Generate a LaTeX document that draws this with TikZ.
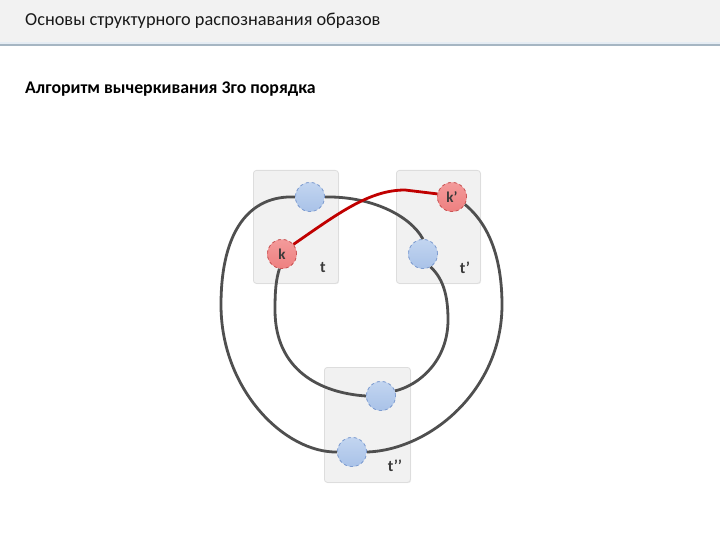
\documentclass[tikz,border=0pt]{standalone}
\usepackage{fontspec}
\setmainfont{Carlito}
\usetikzlibrary{shadows}
\definecolor{bandgray}{HTML}{F2F2F2}
\definecolor{bandline}{HTML}{A6B6C3}
\definecolor{bandlight}{HTML}{E6EDF4}
\definecolor{boxfill}{HTML}{F1F1F1}
\definecolor{boxline}{HTML}{DDDDDD}
\definecolor{bluefill}{HTML}{A9C2E8}
\definecolor{bluetop}{HTML}{C2D5F0}
\definecolor{blueline}{HTML}{7E9CD0}
\definecolor{redfill}{HTML}{EE8080}
\definecolor{redtop}{HTML}{F39A9A}
\definecolor{redline}{HTML}{C85555}
\definecolor{wire}{HTML}{4F4F4F}
\definecolor{redwire}{HTML}{C00000}
\definecolor{labelgray}{HTML}{3A3A3A}
\begin{document}
\begin{tikzpicture}[x=1pt,y=-1pt,
  panel/.style={draw=boxline,fill=boxfill,rounded corners=3pt,line width=0.8pt,
    drop shadow={shadow xshift=0.8pt,shadow yshift=-0.8pt,opacity=0.15}},
  bluecirc/.style={circle,minimum size=29pt,inner sep=0pt,draw=blueline,dashed,line width=0.7pt,
    top color=bluetop,bottom color=bluefill},
  redcirc/.style={circle,minimum size=29pt,inner sep=0pt,draw=redline,dashed,line width=0.7pt,
    top color=redtop,bottom color=redfill,font=\fontsize{15}{15}\selectfont\bfseries,text=labelgray},
  tlabel/.style={font=\fontsize{16}{16}\selectfont\bfseries,text=labelgray},
  wirestyle/.style={draw=wire,line width=2.8pt},
  redstyle/.style={draw=redwire,line width=2.8pt}]
\useasboundingbox (0,0) rectangle (720,540);
% header
\fill[bandgray] (0,0) rectangle (720,42);
\fill[bandlight] (0,42) rectangle (720,44);
\fill[bandline] (0,44) rectangle (720,46);
\node[anchor=west,inner sep=0pt,font=\fontsize{18.3}{20}\selectfont,text=black!90] (title) at (25,21) {Основы структурного распознавания образов};
\node[anchor=west,inner sep=0pt,font=\fontsize{17.8}{20}\selectfont\bfseries,text=black] (subtitle) at (25,89) {Алгоритм вычеркивания 3го порядка};
% panels
\node[panel,minimum width=85pt,minimum height=113pt,anchor=north west] (pt) at (253,170) {};
\node[panel,minimum width=84pt,minimum height=113pt,anchor=north west] (ptp) at (396,170) {};
\node[panel,minimum width=86pt,minimum height=115pt,anchor=north west] (ptpp) at (324,367) {};
\node[tlabel] (lt) at (323,268) {t};
\node[tlabel] (ltp) at (465,268) {t'};
\node[tlabel] (ltpp) at (395,466) {t{'}{'}};
% circle positions
\coordinate (ctb) at (310,197);
\coordinate (ck) at (282,254);
\coordinate (ckp) at (452,197);
\coordinate (cbr) at (423,254);
\coordinate (cub) at (381,396);
\coordinate (clb) at (352,452);
\node[bluecirc] (tb) at (ctb) {};
\node[bluecirc] (br) at (cbr) {};
\node[bluecirc] (ub) at (cub) {};
\node[bluecirc] (lb) at (clb) {};
\node[redcirc] (k) at (ck) {k};
\node[redcirc] (kp) at (ckp) {k'};
% wires
\path[wirestyle] (tb.180) .. controls (250,195) and (221,230) .. (221,305)
   .. controls (221,390) and (285,453) .. (lb.180);
\path[wirestyle] (lb.0) .. controls (430,450) and (502,390) .. (502,305)
   .. controls (502,260) and (490,225) .. (kp.-30);
\path[wirestyle] (tb.0) .. controls (370,196) and (410,215) .. (br.north);
\path[wirestyle] (br.-60) .. controls (445,280) and (448,300) .. (448,320)
   .. controls (448,360) and (420,385) .. (ub.20);
\path[wirestyle] (ub.180) .. controls (320,393) and (275,370) .. (275,310)
   .. controls (275,290) and (276,280) .. (k.-100);
\path[redstyle] (k.40) .. controls (340,212) and (370,190) .. (405,190) -- (kp.168);
% redraw circles on top
\node[bluecirc] at (ctb) {};
\node[bluecirc] at (cbr) {};
\node[bluecirc] at (cub) {};
\node[bluecirc] at (clb) {};
\node[redcirc] at (ck) {k};
\node[redcirc] at (ckp) {k'};
\end{tikzpicture}
\end{document}
